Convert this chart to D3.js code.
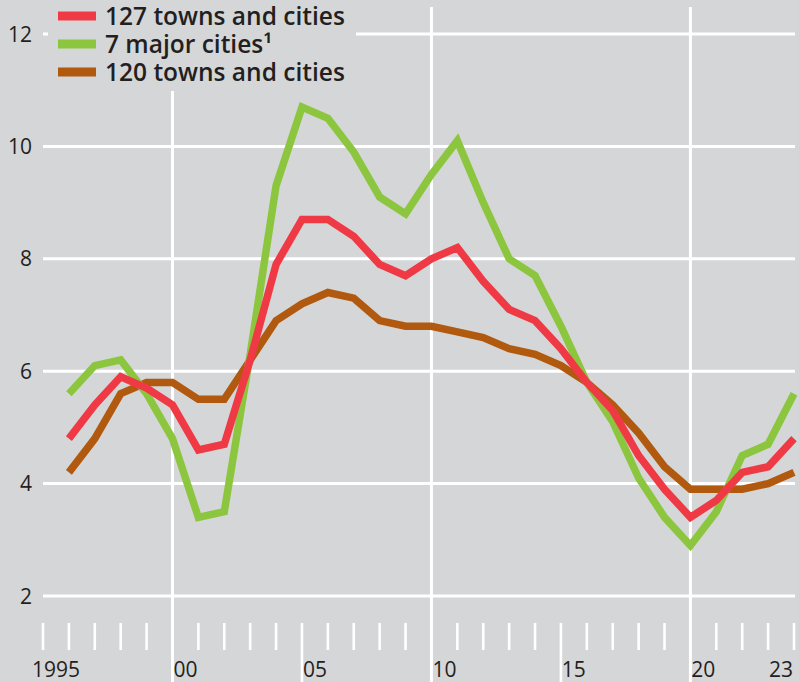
<!DOCTYPE html>
<html>
<head>
<meta charset="utf-8">
<script src="https://cdn.jsdelivr.net/npm/d3@7"></script>
<style>
  html, body { margin: 0; padding: 0; background: #d5d6d8; }
  svg { display: block; }
  text { font-family: "Open Sans", "Noto Sans", sans-serif; fill: #231f20; }
</style>
</head>
<body>
<svg id="chart" width="799" height="682"></svg>
<script>
// Years (values are year-end readings)
const years = [1995, 1996, 1997, 1998, 1999, 2000, 2001, 2002, 2003, 2004,
  2005, 2006, 2007, 2008, 2009, 2010, 2011, 2012, 2013, 2014,
  2015, 2016, 2017, 2018, 2019, 2020, 2021, 2022, 2023];

// 127 towns and cities
const towns127 = [4.8, 5.4, 5.9, 5.7, 5.4, 4.6, 4.7, 6.2, 7.9, 8.7,
  8.7, 8.4, 7.9, 7.7, 8.0, 8.2, 7.6, 7.1, 6.9, 6.4,
  5.8, 5.3, 4.5, 3.9, 3.4, 3.7, 4.2, 4.3, 4.8];

// 7 major cities
const majorCities = [5.6, 6.1, 6.2, 5.6, 4.8, 3.4, 3.5, 6.3, 9.3, 10.7,
  10.5, 9.9, 9.1, 8.8, 9.5, 10.1, 9.0, 8.0, 7.7, 6.8,
  5.8, 5.1, 4.1, 3.4, 2.9, 3.5, 4.5, 4.7, 5.6];

// 120 towns and cities
const towns120 = [4.2, 4.8, 5.6, 5.8, 5.8, 5.5, 5.5, 6.2, 6.9, 7.2,
  7.4, 7.3, 6.9, 6.8, 6.8, 6.7, 6.6, 6.4, 6.3, 6.1,
  5.8, 5.4, 4.9, 4.3, 3.9, 3.9, 3.9, 4.0, 4.2];

const yTicks = [2, 4, 6, 8, 10, 12];
const xLabels = [
  {year: 1995, label: "1995"}, {year: 2000, label: "00"}, {year: 2005, label: "05"},
  {year: 2010, label: "10"}, {year: 2015, label: "15"}, {year: 2020, label: "20"},
  {year: 2023, label: "23"}
];
const decadeLines = [2000, 2010, 2020];
const halfDecadeTicks = [2005, 2015];

const series = [
  {name: "120 towns and cities", values: towns120, color: "#b0590f"},
  {name: "7 major cities\u00b9", values: majorCities, color: "#8cc63f"},
  {name: "127 towns and cities", values: towns127, color: "#ef3a45"}
];
const legendOrder = [series[2], series[1], series[0]];

const bg = "#d5d6d8";
const svg = d3.select("#chart");

const x = d3.scaleLinear().domain([1995, 2024]).range([43, 794]);
const y = d3.scaleLinear().domain([2, 12]).range([596, 34]);

// horizontal grid
svg.append("g")
  .selectAll("line")
  .data(yTicks)
  .join("line")
    .attr("x1", 43)
    .attr("x2", 795)
    .attr("y1", d => y(d))
    .attr("y2", d => y(d))
    .attr("stroke", "#fff")
    .attr("stroke-width", 3);

// decade lines, full height
svg.append("g")
  .selectAll("line")
  .data(decadeLines)
  .join("line")
    .attr("x1", d => x(d))
    .attr("x2", d => x(d))
    .attr("y1", 7)
    .attr("y2", 682)
    .attr("stroke", "#fff")
    .attr("stroke-width", 3);

// year ticks along the bottom
const allTicks = d3.range(1995, 2025).filter(d => !decadeLines.includes(d));
svg.append("g")
  .selectAll("line")
  .data(allTicks)
  .join("line")
    .attr("x1", d => x(d))
    .attr("x2", d => x(d))
    .attr("y1", 623)
    .attr("y2", d => halfDecadeTicks.includes(d) ? 682 : 650)
    .attr("stroke", "#fff")
    .attr("stroke-width", 2.6);

// y labels
svg.append("g")
  .selectAll("text")
  .data(yTicks)
  .join("text")
    .attr("x", 32)
    .attr("y", d => y(d))
    .attr("dy", "0.36em")
    .attr("text-anchor", "end")
    .attr("font-size", 21)
    .text(d => d);

// x labels, centred on the year interval
svg.append("g")
  .selectAll("text")
  .data(xLabels)
  .join("text")
    .attr("x", d => x(d.year + 0.5))
    .attr("y", 677)
    .attr("text-anchor", "middle")
    .attr("font-size", 21)
    .text(d => d.label);

// lines
const line = d3.line()
  .x((d, i) => x(years[i] + 1))
  .y(d => y(d));

svg.append("g")
  .selectAll("path")
  .data(series)
  .join("path")
    .attr("d", d => line(d.values))
    .attr("fill", "none")
    .attr("stroke", d => d.color)
    .attr("stroke-width", 7.5)
    .attr("stroke-linejoin", "miter")
    .attr("stroke-miterlimit", 2);

// legend with background box covering the grid
const legend = svg.append("g");
legend.append("rect")
  .attr("x", 48)
  .attr("y", 0)
  .attr("width", 308)
  .attr("height", 91)
  .attr("fill", bg);

const rows = legend.selectAll("g")
  .data(legendOrder)
  .join("g")
    .attr("transform", (d, i) => `translate(58,${16 + i * 28})`);

rows.append("rect")
  .attr("x", 0)
  .attr("y", -4.5)
  .attr("width", 38)
  .attr("height", 9)
  .attr("fill", d => d.color);

rows.append("text")
  .attr("x", 47)
  .attr("y", 0)
  .attr("dy", "0.36em")
  .attr("font-size", 24.5)
  .attr("font-weight", 600)
  .text(d => d.name);
</script>
</body>
</html>
